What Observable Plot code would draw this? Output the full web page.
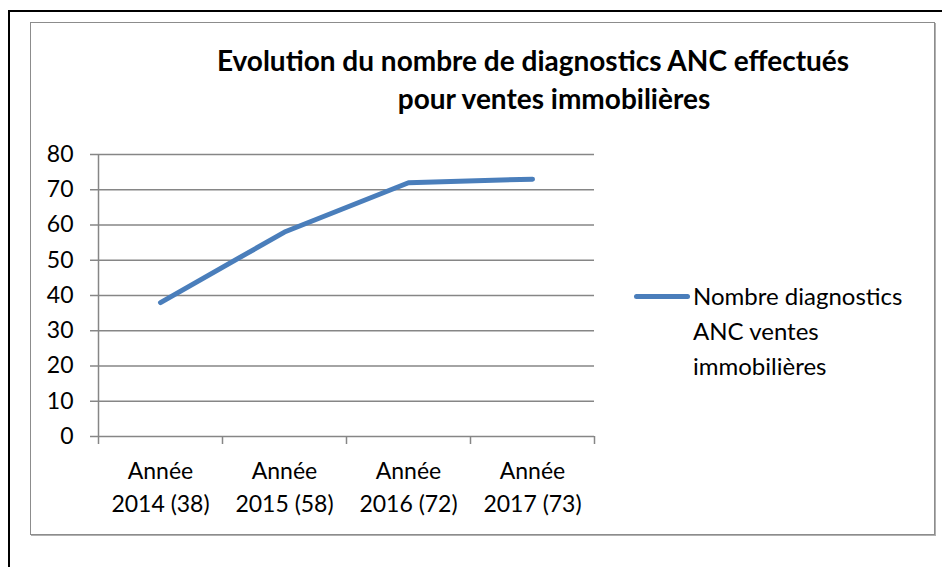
<!DOCTYPE html>
<html>
<head>
<meta charset="utf-8">
<script src="https://cdn.jsdelivr.net/npm/d3@7"></script>
<script src="https://cdn.jsdelivr.net/npm/@observablehq/plot@0.6"></script>
<style>
  html, body { margin: 0; padding: 0; background: #fff; overflow: hidden; }
  #wrap { position: relative; width: 942px; height: 567px; overflow: hidden; font-family: Lato, "Open Sans", sans-serif; color: #000; }
  #outer { position: absolute; left: 8px; top: 10px; width: 1000px; height: 700px; border: 2px solid #000; box-sizing: border-box; }
  #inner { position: absolute; left: 30px; top: 22px; width: 905px; height: 513px; border: 1.5px solid #8c8c8c; box-shadow: 1px 1px 0 #b0b0b0; box-sizing: border-box; }
  .title { position: absolute; font-weight: bold; font-size: 28px; line-height: 38px; text-align: center; white-space: nowrap; }
  #legend { position: absolute; left: 634px; top: 278px; }
  #legend .sw { position: absolute; left: 0; top: 16px; width: 56px; height: 5px; border-radius: 3px; background: #4A7EBB; }
  #legend .txt { position: absolute; left: 59px; top: 0; font-size: 24px; line-height: 35px; white-space: nowrap; }
  #chart { position: absolute; left: 0; top: 0; }
</style>
</head>
<body>
<div id="wrap">
  <div id="outer"></div>
  <div id="inner"></div>
  <div id="chart"></div>
  <div class="title" id="t1" style="left:133px; top:41px; width:800px;"></div>
  <div class="title" id="t2" style="left:154px; top:79px; width:800px;"></div>
  <div id="legend"><div class="sw"></div><div class="txt" id="legtxt"></div></div>
</div>
<script>
// ---- data ----
const titleLines = ["Evolution du nombre de diagnostics ANC effectués", "pour ventes immobilières"];
const categories = ["Année\n2014 (38)", "Année\n2015 (58)", "Année\n2016 (72)", "Année\n2017 (73)"];
const values = [38, 58, 72, 73];
const seriesName = ["Nombre diagnostics", "ANC ventes", "immobilières"];
const yTicks = [0, 10, 20, 30, 40, 50, 60, 70, 80];

document.getElementById("t1").textContent = titleLines[0];
document.getElementById("t2").textContent = titleLines[1];
document.getElementById("legtxt").innerHTML = seriesName.join("<br>");

const data = categories.map((c, i) => ({i, label: c, value: values[i]}));
const bounds = d3.range(-0.5, categories.length, 1);

const grid = "#868686";
const chart = Plot.plot({
  width: 942,
  height: 567,
  marginLeft: 98,
  marginRight: 348,
  marginTop: 154,
  marginBottom: 131,
  style: {background: "transparent", fontFamily: "Lato, 'Open Sans', sans-serif", fontSize: "23px", color: "#000", overflow: "visible"},
  x: {type: "linear", domain: [-0.5, categories.length - 0.5], axis: null},
  y: {domain: [0, 80], axis: null},
  marks: [
    Plot.ruleY(yTicks, {stroke: grid, strokeWidth: 1.5}),
    Plot.ruleX([-0.5], {y1: 0, y2: 80, stroke: grid, strokeWidth: 1.5}),
    Plot.axisY(yTicks, {label: null, tickSize: 8, tickPadding: 17, stroke: grid, strokeWidth: 1.5, fill: "#000", fontSize: 23, tickFormat: d => String(d)}),
    Plot.axisX(bounds, {label: null, tickSize: 8, stroke: grid, strokeWidth: 1.5, tickFormat: () => ""}),
    Plot.text(data, {x: "i", text: "label", frameAnchor: "bottom", lineAnchor: "top", dy: 20, lineHeight: 1.4, fill: "#000", fontSize: 23}),
    Plot.line(data, {x: "i", y: "value", stroke: "#4A7EBB", strokeWidth: 5, strokeLinecap: "round", strokeLinejoin: "round"})
  ]
});
document.getElementById("chart").appendChild(chart);
</script>
</body>
</html>
